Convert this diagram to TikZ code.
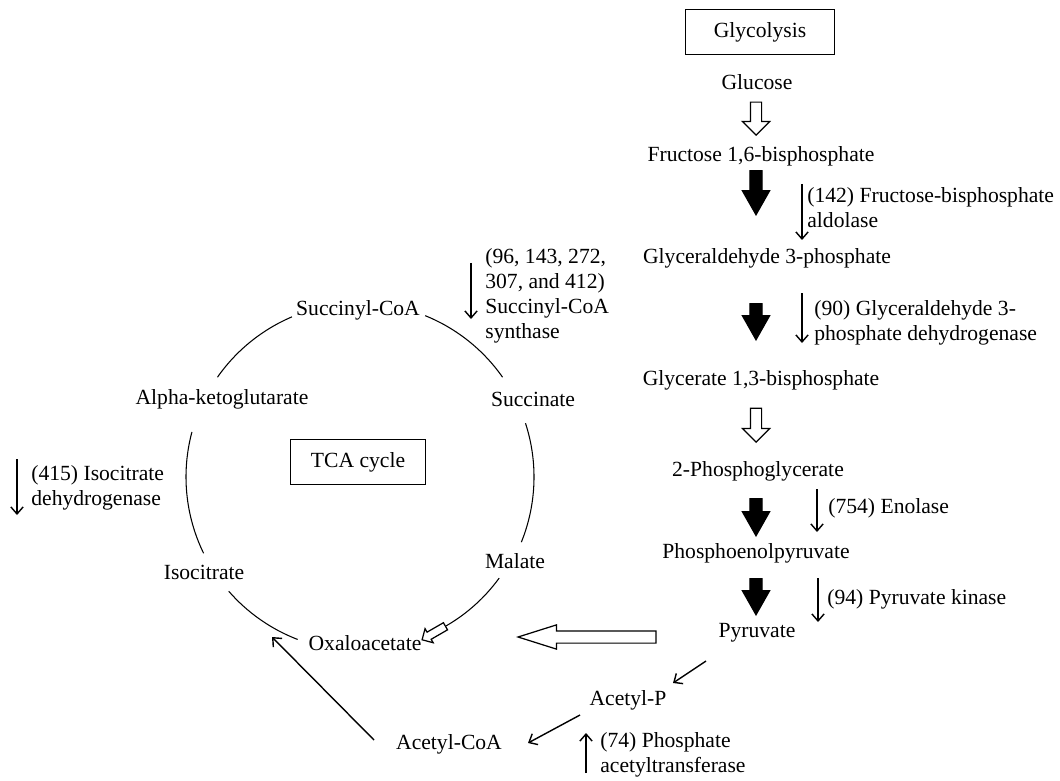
\documentclass[tikz,border=0pt]{standalone}
\usepackage{fontspec}
\setmainfont{Liberation Serif}
\usetikzlibrary{calc,arrows.meta,positioning,shapes.arrows}

\begin{document}
\begin{tikzpicture} [
    x=0.02cm, y=-0.02cm,
    metab/.style={inner sep=0pt, font=\fontsize{12.3}{14.2}\selectfont},
    enzyme/.style={metab, align=left, anchor=west},
    titlebox/.style={draw, line width=0.7pt, metab, minimum width=#1, minimum height=0.9cm},
    thinarrow/.style={line width=0.8pt, -{Straight Barb[length=4pt,width=7pt]}},
    cyclearc/.style={line width=0.6pt},
    openarrow/.style={single arrow, draw, line width=0.7pt, fill=white, inner xsep=0pt, inner ysep=0.1cm, minimum width=0pt, single arrow head extend=0.16cm, single arrow tip angle=90, minimum height=#1, anchor=tip},
    blackarrow/.style={openarrow=#1, fill=black, inner ysep=0.11cm, single arrow head extend=0.15cm, single arrow tip angle=59},
    down/.style={rotate=-90}
  ]

\useasboundingbox (0,0) rectangle (1060,780);

% glycolysis
\node[titlebox=2.98cm] (glybox) at (760,32) {Glycolysis};
\node[metab] (glc) at (757,82) {Glucose};
\node[metab] (fbp) at (761,156) {Fructose 1,6-bisphosphate};
\node[metab] (g3p) at (767,258) {Glyceraldehyde 3-phosphate};
\node[metab] (bpg) at (761,380) {Glycerate 1,3-bisphosphate};
\node[metab] (pga) at (758,471) {2-Phosphoglycerate};
\node[metab] (pep) at (756,553) {Phosphoenolpyruvate};
\node[metab] (pyr) at (757,633) {Pyruvate};
\node[metab] (acp) at (628,700) {Acetyl-P};
\node[metab] (accoa) at (449,744) {Acetyl-CoA};

% big arrows of the pathway
\node[openarrow=0.66cm, down] (step1) at (756,136) {};
\node[blackarrow=0.88cm, down] (step2) at (756,216) {};
\node[blackarrow=0.72cm, down] (step3) at (756,341) {};
\node[openarrow=0.68cm, down] (step4) at (756,443) {};
\node[blackarrow=0.74cm, down] (step5) at (756,537) {};
\node[blackarrow=0.72cm, down] (step6) at (756,616) {};

% enzymes
\node[enzyme] (e142) at (807,208) {(142) Fructose-bisphosphate\\aldolase};
\draw[thinarrow] ($(e142.west)+(-5,-24)$) -- ($(e142.west)+(-5,32)$);

\node[enzyme] (e90) at (814,323) {(90) Glyceraldehyde 3-\\phosphate dehydrogenase};
\draw[thinarrow] ($(e90.west)+(-12,-30)$) -- ($(e90.west)+(-12,20)$);

\node[enzyme] (e754) at (828,508) {(754) Enolase};
\draw[thinarrow] ($(e754.west)+(-11,-19)$) -- ($(e754.west)+(-11,24)$);

\node[enzyme] (e94) at (827,599) {(94) Pyruvate kinase};
\draw[thinarrow] ($(e94.west)+(-9,-21)$) -- ($(e94.west)+(-9,23)$);

\node[enzyme] (e74) at (600,755) {(74) Phosphate\\acetyltransferase};
\draw[thinarrow] ($(e74.west)+(-14,18)$) -- ($(e74.west)+(-14,-22)$);

\node[enzyme] (e415) at (31,488) {(415) Isocitrate\\dehydrogenase};
\draw[thinarrow] ($(e415.west)+(-14,-29)$) -- ($(e415.west)+(-14,27)$);

\node[enzyme] (esca) at (485,296) {(96, 143, 272,\\307, and 412)\\Succinyl-CoA\\synthase};
\draw[thinarrow] ($(esca.west)+(-14,-33)$) -- ($(esca.west)+(-14,23)$);

% TCA cycle
\coordinate (tca) at (360,477);
\node[titlebox=2.7cm] (tcabox) at (358,462) {TCA cycle};
\node[metab] (sca) at (358,310) {Succinyl-CoA};
\node[metab] (akg) at (222,399) {Alpha-ketoglutarate};
\node[metab] (suc) at (533,399) {Succinate};
\node[metab] (iso) at (204,572) {Isocitrate};
\node[metab] (mal) at (515,561) {Malate};
\node[metab] (oaa) at (365,643) {Oxaloacetate};

\draw[cyclearc] ($(tca)+(-113:174)$) arc[start angle=-113, end angle=-145, radius=174];
\draw[cyclearc] ($(tca)+(-68:174)$) arc[start angle=-68, end angle=-35, radius=174];
\draw[cyclearc] ($(tca)+(-165:174)$) arc[start angle=-165, end angle=-206, radius=174];
\draw[cyclearc] ($(tca)+(-18:174)$) arc[start angle=-18, end angle=22, radius=174];
\draw[cyclearc] ($(tca)+(-221:174)$) arc[start angle=-221, end angle=-249, radius=174];
\draw[cyclearc] ($(tca)+(36:172)$) arc[start angle=36, end angle=60, radius=172] coordinate (malend);
\node[openarrow=0.54cm, inner ysep=0.07cm, single arrow head extend=0.08cm, anchor=tail, rotate=210] (malarrow) at (malend) {};

% links between the pathways
\node[openarrow=2.76cm, inner ysep=0.11cm, single arrow head extend=0.12cm, single arrow tip angle=35, rotate=180] (feed) at (516,637) {};
\draw[thinarrow] ($(pyr)+(-51,28)$) -- ($(acp)+(45,-17)$);
\draw[thinarrow] ($(acp)+(-48,15)$) -- ($(accoa)+(79,-1)$);
\draw[thinarrow] ($(accoa)+(-75,-4)$) -- ($(oaa)+(-93,-6)$);

\end{tikzpicture}
\end{document}
